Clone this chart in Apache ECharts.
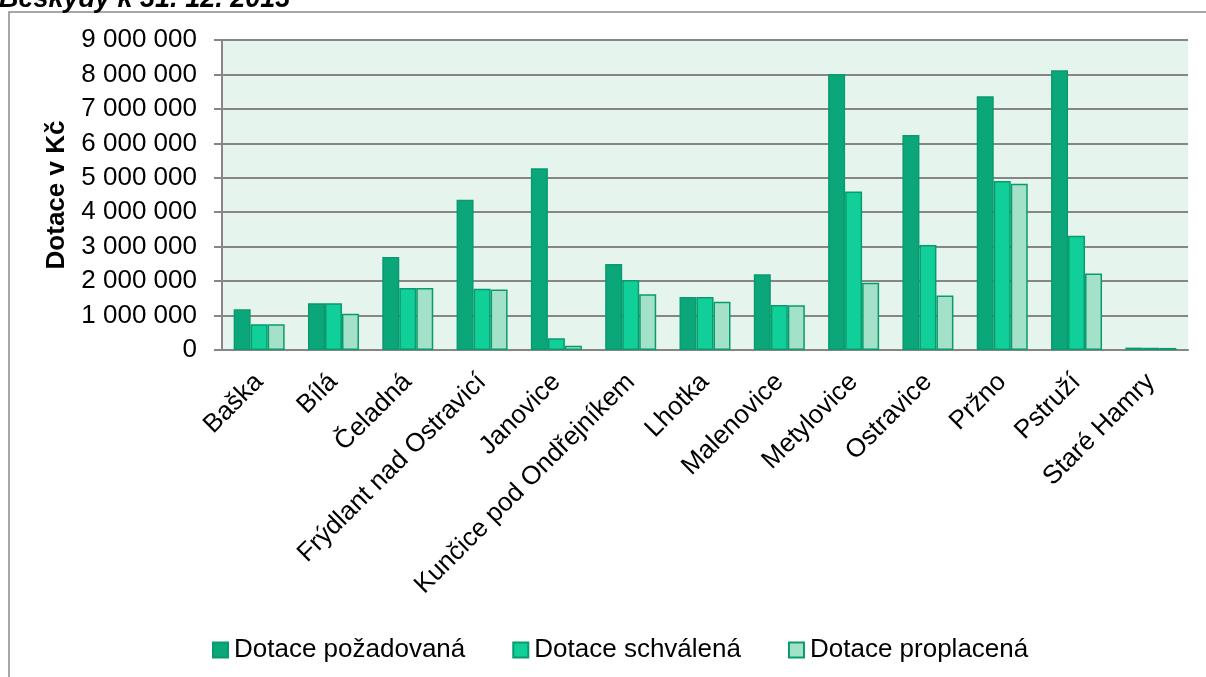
<!DOCTYPE html>
<html>
<head>
<meta charset="utf-8">
<script src="https://cdn.jsdelivr.net/npm/echarts@6/dist/echarts.min.js"></script>
<style>html,body{margin:0;padding:0;background:#fff}#c{width:1206px;height:677px}</style>
</head>
<body>
<div id="c"></div>
<script>
const categories = ['Baška','Bílá','Čeladná','Frýdlant nad Ostravicí','Janovice','Kunčice pod Ondřejníkem','Lhotka','Malenovice','Metylovice','Ostravice','Pržno','Pstruží','Staré Hamry'];
const seriesNames = ['Dotace požadovaná','Dotace schválená','Dotace proplacená'];
const pozadovana = [1180000,1360000,2700000,4360000,5280000,2500000,1540000,2200000,8010000,6240000,7370000,8120000,70000];
const schvalena  = [750000,1360000,1800000,1780000,340000,2030000,1540000,1310000,4600000,3050000,4910000,3320000,65000];
const proplacena = [750000,1050000,1800000,1760000,120000,1620000,1400000,1300000,1950000,1580000,4830000,2220000,60000];
const titleText = 'Beskydy k 31. 12. 2013';
const yAxisName = 'Dotace v Kč';

const FONT = '"Liberation Sans", Arial, sans-serif';
const colors = ['#0BA77A','#11CF98','#A3E1C9'];
const fmt = v => String(v).replace(/\B(?=(\d{3})+(?!\d))/g, ' ');

const chart = echarts.init(document.getElementById('c'));
const values = [pozadovana, schvalena, proplacena];
chart.setOption({
  animation: false,
  textStyle: {fontFamily: FONT},
  graphic: [
    {type:'rect', shape:{x:9, y:12, width:1220, height:700}, style:{fill:'none', stroke:'#8a8a8a', lineWidth:1.5}, z:-1},
    {type:'text', x:-1, y:13, style:{text:titleText, font:'italic bold 27px ' + FONT, fill:'#000', textVerticalAlign:'bottom'}}
  ],
  grid: {left:222, right:18, top:40, bottom:327, show:true, backgroundColor:'#E5F5EE', borderWidth:0},
  legend: {
    data: seriesNames, left:207, top:632, itemGap:47, itemWidth:15, itemHeight:15, icon:'rect',
    textStyle:{fontSize:26, color:'#000', fontFamily:FONT, padding:[0,0,0,1]}
  },
  xAxis: {
    type:'category', data:categories,
    axisLine:{lineStyle:{color:'#868686', width:2}},
    axisTick:{show:false},
    axisLabel:{rotate:45, fontSize:26, color:'#000', margin:28, interval:0, fontFamily:FONT}
  },
  yAxis: {
    type:'value', min:0, max:9000000, interval:1000000,
    name:yAxisName, nameLocation:'middle', nameGap:152, nameRotate:90,
    nameTextStyle:{fontSize:26, fontWeight:'bold', color:'#000', fontFamily:FONT},
    axisLine:{show:true, lineStyle:{color:'#868686', width:2}},
    axisTick:{show:true, length:8, lineStyle:{color:'#868686', width:2}},
    splitLine:{lineStyle:{color:'#868686', width:2}},
    axisLabel:{fontSize:26, color:'#000', margin:25, formatter:fmt, fontFamily:FONT}
  },
  series: seriesNames.map((n,i)=>({
    name:n, type:'bar', data:values[i], barWidth:17, barGap:'0%',
    itemStyle:{color:colors[i], borderColor:'#089B6E', borderWidth:1.5}
  }))
});
</script>
</body>
</html>
